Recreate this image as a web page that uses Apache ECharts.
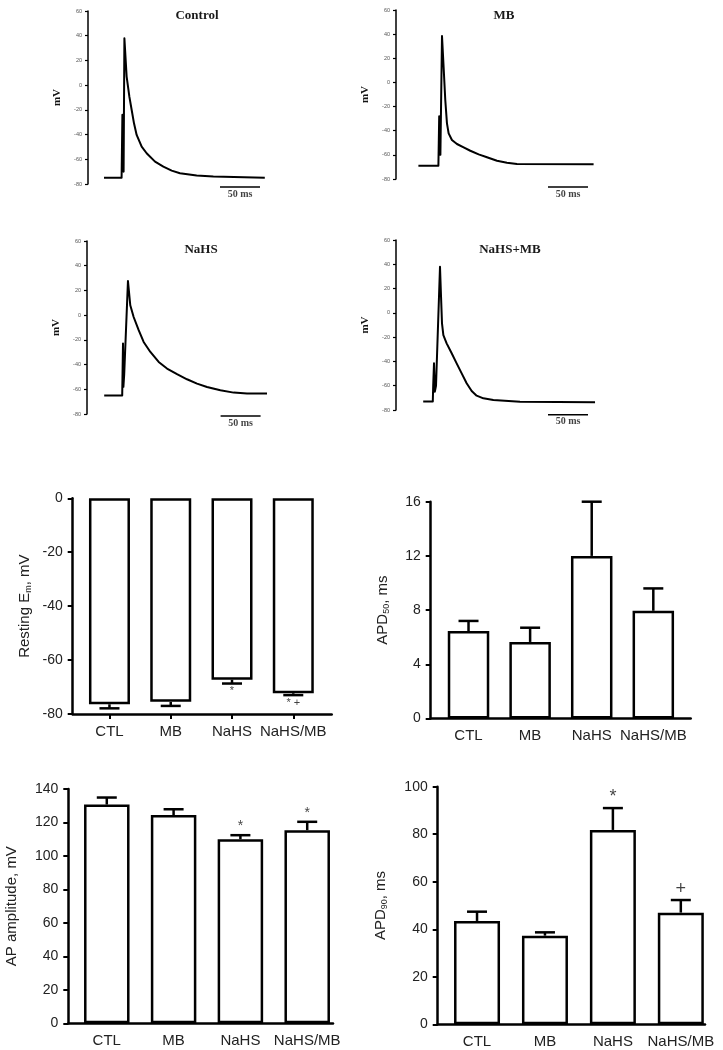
<!DOCTYPE html>
<html>
<head>
<meta charset="utf-8">
<script src="https://cdn.jsdelivr.net/npm/echarts@6/dist/echarts.min.js"></script>
<style>
  html, body { margin: 0; padding: 0; background: #fff; }
  #chart { width: 723px; height: 1050px; }
</style>
</head>
<body>
<div id="chart"></div>
<script>
// ---- action potential traces, [time ms, mV]
const ctlTrace = [[20, -75], [42, -75], [42.5, -75], [43, -24], [43.5, -68], [44.5, -70], [45.5, 38], [48.3, 6.9], [51.7, -9.3], [54.6, -20.1], [57.5, -30.9], [60.8, -40.3], [67.1, -49.8], [73.3, -55.1], [83.8, -61.9], [94.2, -66], [104.6, -69.2], [115, -71.3], [135.8, -73.2], [156.7, -74], [221, -74.9]];
const mbTrace = [[28, -69], [53, -69], [53.5, -69], [54, -28], [54.5, -55], [55.5, -60], [57.5, 38.5], [59.5, 13], [61.6, -14.6], [63.7, -33.9], [65.8, -42.2], [69.9, -47.7], [76.2, -51], [84.5, -53.8], [92.9, -56.6], [103.3, -59.6], [113.7, -62], [126.2, -64.9], [138.7, -66.5], [151.2, -67.6], [247, -67.7]];
const nahsTrace = [[21.5, -65], [44, -65], [44.5, -65], [45, -23], [45.5, -58], [46.5, -48], [51.2, 27.6], [54.1, 8], [58.3, -1.5], [64.6, -12.2], [70.8, -21.7], [79.2, -29.8], [89.6, -37.9], [100, -43.2], [112.5, -47.8], [125, -51.9], [137.5, -55.4], [150, -58.1], [166.7, -60.8], [183.3, -62.7], [200, -63.5], [225, -63.5]];
const nahsMbTrace = [[34, -73], [46, -73], [46.5, -60], [47.5, -41.5], [48.5, -65], [50, -60], [55, 38], [56.3, 13.3], [57.5, -8.6], [59.2, -18.3], [63.3, -25.1], [69.6, -33.3], [75.8, -41.6], [82.1, -49.8], [88.3, -58], [94.6, -64.4], [100.8, -68.2], [109.2, -70.4], [121.7, -71.8], [155, -73.2], [248.8, -73.7]];
// scale bars: [start ms, end ms, level mV]
const ctlScale = [165, 215, -82.4];
const mbScale = [190, 240, -86.6];
const nahsScale = [167, 217, -81.6];
const nahsMbScale = [190, 240, -84];
const scaleLabel = '50 ms';

// ---- summary bars
const groups = ['CTL', 'MB', 'NaHS', 'NaHS/MB'];
const restEm = [-76.4, -75.5, -67.3, -72.3];
const restEmErr = [-77.9, -77.0, -68.7, -73.0];
const restEmMarks = ['', '', '*', '* +'];
const apd50 = [6.45, 5.65, 12.0, 7.95];
const apd50Err = [7.2, 6.7, 16.0, 9.6];
const apd50Marks = ['', '', '', ''];
const apAmp = [130.7, 124.4, 110.0, 115.4];
const apAmpErr = [134.9, 127.9, 112.4, 120.4];
const apAmpMarks = ['', '', '*', '*'];
const apd90 = [43.5, 37.3, 81.8, 47.0];
const apd90Err = [47.4, 38.7, 91.0, 52.3];
const apd90Marks = ['', '', '*', '+'];

const serif = 'Liberation Serif';
const sans = 'Liberation Sans';

const chart = echarts.init(document.getElementById('chart'));

const tracePanels = [
  { name: 'Control', data: ctlTrace, bar: ctlScale, grid: { left: 88, top: 11, width: 200, height: 173 }, title: [192, 4] },
  { name: 'MB', data: mbTrace, bar: mbScale, grid: { left: 396, top: 10, width: 200, height: 169 }, title: [499, 4] },
  { name: 'NaHS', data: nahsTrace, bar: nahsScale, grid: { left: 87, top: 241, width: 200, height: 173 }, title: [196, 238] },
  { name: 'NaHS+MB', data: nahsMbTrace, bar: nahsMbScale, grid: { left: 396, top: 240, width: 200, height: 170 }, title: [505, 238] }
];

const barPanels = [
  { name: 'Resting E{sub|m}, mV', vals: restEm, errs: restEmErr, marks: restEmMarks, min: -80, max: 0, interval: 20,
    grid: { left: 72.7, top: 498.3, width: 259, height: 215.7 }, xr: [-0.6, 3.627], barW: 41, nameGap: 40, xTicks: true, markPos: 'bottom', markSize: 11 },
  { name: 'APD{sub|50}, ms', vals: apd50, errs: apd50Err, marks: apd50Marks, min: 0, max: 16, interval: 4,
    grid: { left: 430.7, top: 501.7, width: 260, height: 216.8 }, xr: [-0.614, 3.607], barW: 41.5, nameGap: 40, xTicks: false, markPos: 'top', markSize: 14 },
  { name: 'AP amplitude, mV', vals: apAmp, errs: apAmpErr, marks: apAmpMarks, min: 0, max: 140, interval: 20,
    grid: { left: 68.3, top: 789, width: 264.7, height: 234.3 }, xr: [-0.576, 3.386], barW: 45.5, nameGap: 49, xTicks: false, markPos: 'top', markSize: 14 },
  { name: 'APD{sub|90}, ms', vals: apd90, errs: apd90Err, marks: apd90Marks, min: 0, max: 100, interval: 20,
    grid: { left: 437.7, top: 786.7, width: 267.3, height: 237.6 }, xr: [-0.579, 3.356], barW: 46, nameGap: 49, xTicks: false, markPos: 'top', markSize: 18 }
];

const option = { animation: false, backgroundColor: '#fff', title: [], grid: [], xAxis: [], yAxis: [], series: [] };

tracePanels.forEach((p, i) => {
  option.grid.push(Object.assign({ outerBoundsMode: 'none', containLabel: false }, p.grid));
  option.title.push({
    text: p.name, left: p.title[0], top: p.title[1], textAlign: 'center',
    textStyle: { fontFamily: serif, fontWeight: 'bold', fontSize: 13, color: '#1a1a1a' }
  });
  option.xAxis.push({ type: 'value', gridIndex: i, min: 0, max: 250, show: false });
  option.yAxis.push({
    type: 'value', gridIndex: i, min: -80, max: 60, interval: 20,
    name: 'mV', nameLocation: 'middle', nameGap: 25,
    nameTextStyle: { fontFamily: serif, fontWeight: 'bold', fontSize: 11, color: '#111' },
    axisLine: { show: true, onZero: false, lineStyle: { color: '#000', width: 1.5 } },
    axisTick: { show: true, length: 3, lineStyle: { color: '#000', width: 1.2 } },
    axisLabel: { fontSize: 5.5, color: '#555', margin: 6, fontFamily: sans },
    splitLine: { show: false }
  });
  option.series.push({
    type: 'line', xAxisIndex: i, yAxisIndex: i, data: p.data, symbol: 'none', clip: false,
    lineStyle: { color: '#000', width: 2, join: 'round' }
  });
  option.series.push({
    type: 'line', xAxisIndex: i, yAxisIndex: i, symbol: 'none', clip: false,
    data: [[p.bar[0], p.bar[2]], [p.bar[1], p.bar[2]]],
    lineStyle: { color: '#000', width: 1.5 }
  });
  option.series.push({
    type: 'scatter', xAxisIndex: i, yAxisIndex: i, symbolSize: 0, clip: false,
    data: [[(p.bar[0] + p.bar[1]) / 2, p.bar[2]]],
    label: { show: true, position: 'bottom', distance: 2, formatter: scaleLabel,
      fontFamily: serif, fontWeight: 'bold', fontSize: 10, color: '#111' }
  });
});

function errRender(params, api) {
  const x = api.value(0);
  const p0 = api.coord([x, api.value(1)]);
  const p1 = api.coord([x, api.value(2)]);
  const cap = 10;
  const st = { stroke: '#000', lineWidth: 2.5 };
  return {
    type: 'group',
    children: [
      { type: 'line', shape: { x1: p0[0], y1: p0[1], x2: p1[0], y2: p1[1] }, style: st },
      { type: 'line', shape: { x1: p1[0] - cap, y1: p1[1], x2: p1[0] + cap, y2: p1[1] }, style: st }
    ]
  };
}

barPanels.forEach((p, k) => {
  const i = k + tracePanels.length;
  option.grid.push(Object.assign({ outerBoundsMode: 'none', containLabel: false }, p.grid));
  option.xAxis.push({
    type: 'value', gridIndex: i, min: p.xr[0], max: p.xr[1],
    axisLine: { show: true, onZero: false, lineStyle: { color: '#000', width: 2.5 } },
    axisTick: { show: p.xTicks, customValues: [0, 1, 2, 3], length: 5, lineStyle: { color: '#000', width: 2 } },
    axisLabel: { customValues: [0, 1, 2, 3], formatter: v => groups[Math.round(v)], fontFamily: sans, fontSize: 15, color: '#222', margin: 10 },
    splitLine: { show: false }
  });
  option.yAxis.push({
    type: 'value', gridIndex: i, min: p.min, max: p.max, interval: p.interval,
    name: p.name, nameLocation: 'middle', nameGap: p.nameGap,
    nameTextStyle: { fontFamily: sans, fontSize: 15, color: '#222',
      rich: { sub: { fontFamily: sans, fontSize: 9, color: '#222', verticalAlign: 'bottom', padding: [6, 0, 0, 0] } } },
    axisLine: { show: true, onZero: false, lineStyle: { color: '#000', width: 2.5 } },
    axisTick: { show: true, length: 5, lineStyle: { color: '#000', width: 2 } },
    axisLabel: { fontFamily: sans, fontSize: 14, color: '#222', margin: 10 },
    splitLine: { show: false }
  });
  option.series.push({
    type: 'custom', xAxisIndex: i, yAxisIndex: i, renderItem: errRender, clip: false, z: 1,
    data: p.vals.map((v, j) => [j, v, p.errs[j]])
  });
  option.series.push({
    type: 'bar', xAxisIndex: i, yAxisIndex: i, barWidth: p.barW, z: 2,
    data: p.vals.map((v, j) => [j, v]),
    itemStyle: { color: '#fff', borderColor: '#000', borderWidth: 2.5 }
  });
  option.series.push({
    type: 'scatter', xAxisIndex: i, yAxisIndex: i, symbolSize: 0, clip: false, z: 3,
    data: p.errs.map((v, j) => [j, v, p.marks[j]]),
    label: { show: true, position: p.markPos, distance: 2, formatter: d => d.value[2],
      fontFamily: sans, fontSize: p.markSize, color: '#111' }
  });
});

chart.setOption(option);
</script>
</body>
</html>
